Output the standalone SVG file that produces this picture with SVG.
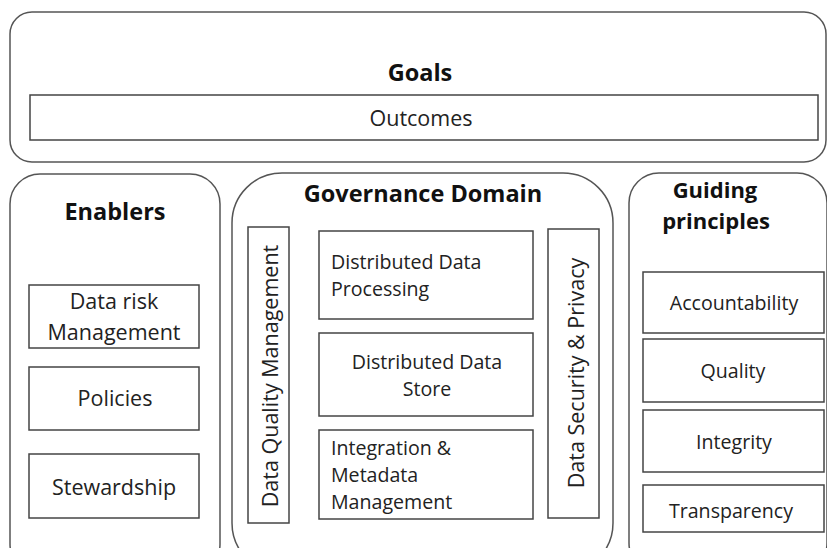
<svg xmlns="http://www.w3.org/2000/svg" width="827" height="548" viewBox="0 0 827 548">
<style>
.outer{fill:#fff;stroke:#555;stroke-width:1.5}
.box{fill:#fff;stroke:#444;stroke-width:1.5}
.t{font-family:"Open Sans","Noto Sans",sans-serif;font-size:21.5px;fill:#222}
.s{font-family:"Open Sans","Noto Sans",sans-serif;font-size:19.6px;fill:#222}
.h{font-family:"Open Sans","Noto Sans",sans-serif;font-size:23.5px;font-weight:bold;fill:#111}
.g{font-family:"Open Sans","Noto Sans",sans-serif;font-size:22px;font-weight:bold;fill:#111}
.c{text-anchor:middle}
</style>
<rect width="827" height="548" fill="#fff"/>
<g id="goals">
<rect class="outer" x="10" y="12" width="816" height="150" rx="22"/>
<text class="h c" x="420" y="81">Goals</text>
<g id="outcomes">
<rect class="box" x="30" y="95" width="788" height="45"/>
<text class="t c" x="421" y="126">Outcomes</text>
</g>
</g>
<g id="enablers">
<rect class="outer" x="10" y="174" width="210" height="400" rx="30"/>
<text class="h c" x="115" y="220">Enablers</text>
<g id="data-risk">
<rect class="box" x="29" y="285" width="170" height="63"/>
<text class="t c" x="114" y="309">Data risk</text>
<text class="t c" x="114" y="340">Management</text>
</g>
<g id="policies">
<rect class="box" x="29" y="367" width="170" height="63"/>
<text class="t c" x="115" y="406">Policies</text>
</g>
<g id="stewardship">
<rect class="box" x="29" y="454" width="170" height="64"/>
<text class="t c" x="114" y="495">Stewardship</text>
</g>
</g>
<g id="governance">
<rect class="outer" x="232" y="173" width="381" height="400" rx="50"/>
<text class="h c" x="423" y="202">Governance Domain</text>
<g id="dqm">
<rect class="box" x="248" y="227" width="41" height="296"/>
<text class="t c" transform="translate(278 376) rotate(-90)">Data Quality Management</text>
</g>
<g id="ddp">
<rect class="box" x="319" y="231" width="214" height="88"/>
<text class="s" x="331" y="269">Distributed Data</text>
<text class="s" x="331" y="296">Processing</text>
</g>
<g id="dds">
<rect class="box" x="319" y="333" width="214" height="83"/>
<text class="s c" x="427" y="369">Distributed Data</text>
<text class="s c" x="427" y="396">Store</text>
</g>
<g id="imm">
<rect class="box" x="319" y="430" width="214" height="89"/>
<text class="s" x="331" y="455">Integration &amp;</text>
<text class="s" x="331" y="482">Metadata</text>
<text class="s" x="331" y="509">Management</text>
</g>
<g id="dsp">
<rect class="box" x="548" y="229" width="51" height="289"/>
<text class="t c" transform="translate(584 373) rotate(-90)">Data Security &amp; Privacy</text>
</g>
</g>
<g id="principles">
<rect class="outer" x="629" y="173" width="198" height="400" rx="30"/>
<text class="g c" x="715" y="198">Guiding</text>
<text class="g c" x="716" y="229">principles</text>
<g id="accountability">
<rect class="box" x="643" y="272" width="181" height="61"/>
<text class="s c" x="734" y="310">Accountability</text>
</g>
<g id="quality">
<rect class="box" x="643" y="339" width="181" height="63"/>
<text class="s c" x="733" y="378">Quality</text>
</g>
<g id="integrity">
<rect class="box" x="643" y="410" width="181" height="62"/>
<text class="s c" x="734" y="449">Integrity</text>
</g>
<g id="transparency">
<rect class="box" x="643" y="485" width="181" height="47"/>
<text class="s c" x="731" y="518">Transparency</text>
</g>
</g>
<g id="connectors"/>
</svg>
